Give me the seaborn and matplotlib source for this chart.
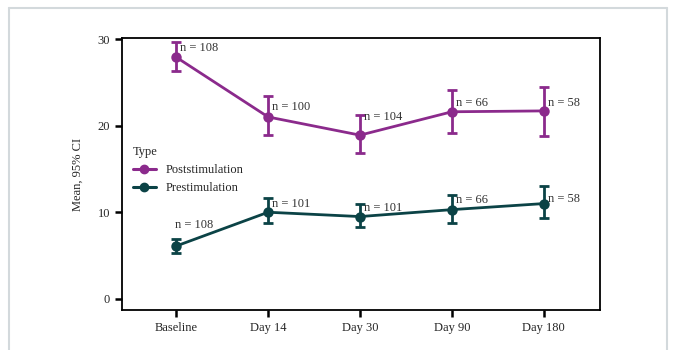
import matplotlib
matplotlib.use("Agg")
import matplotlib.pyplot as plt
import pandas as pd
import seaborn as sns
from matplotlib.lines import Line2D

# --- data ---
visits = ["Baseline", "Day 14", "Day 30", "Day 90", "Day 180"]

post_mean = [27.9, 21.0, 18.9, 21.6, 21.7]
post_lo = [26.3, 18.9, 16.8, 19.2, 18.8]
post_hi = [29.6, 23.4, 21.2, 24.1, 24.5]
post_n = [108, 100, 104, 66, 58]

pre_mean = [6.1, 10.0, 9.5, 10.3, 11.0]
pre_lo = [5.3, 8.7, 8.3, 8.8, 9.3]
pre_hi = [6.9, 11.6, 11.0, 12.0, 13.0]
pre_n = [108, 101, 101, 66, 58]

types = ["Poststimulation", "Prestimulation"]
colors = {"Poststimulation": "#8b2a8c", "Prestimulation": "#0b4346"}

# label offsets in points (style only)
post_offsets = [(3, 6.5), (3, 7), (3, 13), (3, 6), (3, 6)]
pre_offsets = [(-1, 15), (3, 6), (3, 6.5), (3, 7), (3, 3.5)]

sns.set_theme(style="white")
plt.rcParams["font.family"] = ["Liberation Serif", "DejaVu Serif"]

df = pd.concat([
    pd.DataFrame({"visit": visits, "mean": post_mean, "lo": post_lo, "hi": post_hi,
                  "n": post_n, "type": types[0]}),
    pd.DataFrame({"visit": visits, "mean": pre_mean, "lo": pre_lo, "hi": pre_hi,
                  "n": pre_n, "type": types[1]}),
], ignore_index=True)

fig = plt.figure(figsize=(6.74, 3.5), dpi=100)
ax = fig.add_axes([0.181, 0.114, 0.709, 0.777])

sns.pointplot(data=df, x="visit", y="mean", hue="type", order=visits,
              hue_order=types, palette=colors, errorbar=None, markers="o",
              markersize=6, linewidth=2, ax=ax, legend=False)

for t, offs in zip(types, [post_offsets, pre_offsets]):
    sub = df[df["type"] == t].reset_index(drop=True)
    xs = range(len(sub))
    ax.errorbar(xs, sub["mean"], yerr=[sub["mean"] - sub["lo"], sub["hi"] - sub["mean"]],
                fmt="none", ecolor=colors[t], elinewidth=2, capsize=3.5, capthick=2, zorder=3)
    for i, row in sub.iterrows():
        ax.annotate(f"n = {row['n']}", (i, row["mean"]), textcoords="offset points",
                    xytext=offs[i], ha="left", va="center", fontsize=9, color="#333333")

ax.set_xlim(-0.59, 4.61)
ax.set_ylim(-1.3, 30.1)
ax.set_yticks([0, 10, 20, 30])
ax.set_xlabel("")
ax.set_ylabel("Mean, 95% CI", fontsize=9, labelpad=10)
ax.tick_params(axis="both", direction="out", length=5, width=1.8, labelsize=9,
               color="black", bottom=True, left=True)
for s in ax.spines.values():
    s.set_color("black")
    s.set_linewidth(1.3)

handles = [Line2D([0], [0], color=colors[t], lw=2.2, marker="o", markersize=6) for t in types]
leg = ax.legend(handles, types, title="Type", loc="upper left", bbox_to_anchor=(0.0, 0.645),
                frameon=False, fontsize=9, title_fontsize=9, handlelength=1.8,
                alignment="left")

# light outer frame
frame_col = "#d3d9dc"
fig.add_artist(Line2D([0.013, 0.013], [0, 0.977], color=frame_col, lw=1.5, transform=fig.transFigure))
fig.add_artist(Line2D([0.013, 0.99], [0.977, 0.977], color=frame_col, lw=1.5, transform=fig.transFigure))
fig.add_artist(Line2D([0.99, 0.99], [0, 0.977], color=frame_col, lw=1.5, transform=fig.transFigure))

fig.savefig("out.png", dpi=100)
